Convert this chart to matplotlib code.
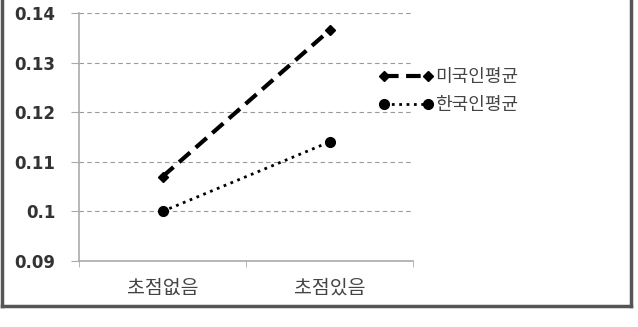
import matplotlib.pyplot as plt
from matplotlib.lines import Line2D

plt.rcParams['font.family'] = ['Noto Sans CJK KR', 'DejaVu Sans']

# 데이터
categories = ['초점없음', '초점있음']
us_mean = [0.107, 0.1365]
kr_mean = [0.100, 0.114]
series_names = ['미국인평균', '한국인평균']
yticks = [0.09, 0.1, 0.11, 0.12, 0.13, 0.14]
ytick_labels = ['0.09', '0.1', '0.11', '0.12', '0.13', '0.14']

fig = plt.figure(figsize=(6.38, 3.27), dpi=100)
ax = fig.add_axes([79/638, 1-261/327, (413-79)/638, (261-13)/327])

xs = range(len(categories))
ax.plot(xs, us_mean, color='black', linestyle=(0, (3.5, 1.8)), linewidth=3,
        marker='D', markersize=5.5, label=series_names[0])
ax.plot(xs, kr_mean, color='black', linestyle=':', linewidth=2,
        marker='o', markersize=7, label=series_names[1])

ax.set_xlim(-0.5, 1.5)
ax.set_ylim(0.09, 0.14)
ax.set_yticks(yticks)
ax.set_yticklabels(ytick_labels, family='DejaVu Sans', fontsize=12,
                   color='#333333', fontweight='bold')
ax.set_xticks(list(xs))
ax.set_xticklabels(categories, fontsize=14, color='#444444')
ax.set_xticks([-0.5, 0.5, 1.5], minor=True)
ax.tick_params(axis='x', which='major', length=0, pad=12)
ax.tick_params(axis='x', which='minor', length=4, color='#aaaaaa', direction='out')
ax.tick_params(axis='y', length=6, color='#aaaaaa', direction='out', pad=11)

ax.grid(axis='y', linestyle=(0, (4, 3)), color='#999999', linewidth=0.8)
ax.set_axisbelow(True)
for s in ['top', 'right']:
    ax.spines[s].set_visible(False)
for s in ['left', 'bottom']:
    ax.spines[s].set_color('#aaaaaa')
    ax.spines[s].set_linewidth(1.2)

leg = ax.legend(loc='upper left', bbox_to_anchor=(370/638, 1-59/327),
                bbox_transform=fig.transFigure, frameon=False, numpoints=2,
                fontsize=13, handlelength=3.0, handletextpad=0.1,
                labelspacing=0.55, borderpad=0)
for t in leg.get_texts():
    t.set_color('#444444')

# 바깥 테두리
yb = 1 - 306/327
for xa, ya, xb, yb2 in [(2/638, yb, 631/638, yb),
                         (2/638, yb, 2/638, 1),
                         (631/638, yb, 631/638, 1)]:
    fig.add_artist(Line2D([xa, xb], [ya, yb2], transform=fig.transFigure,
                          color='#555555', linewidth=2.5))

fig.savefig('out.png', dpi=100)
